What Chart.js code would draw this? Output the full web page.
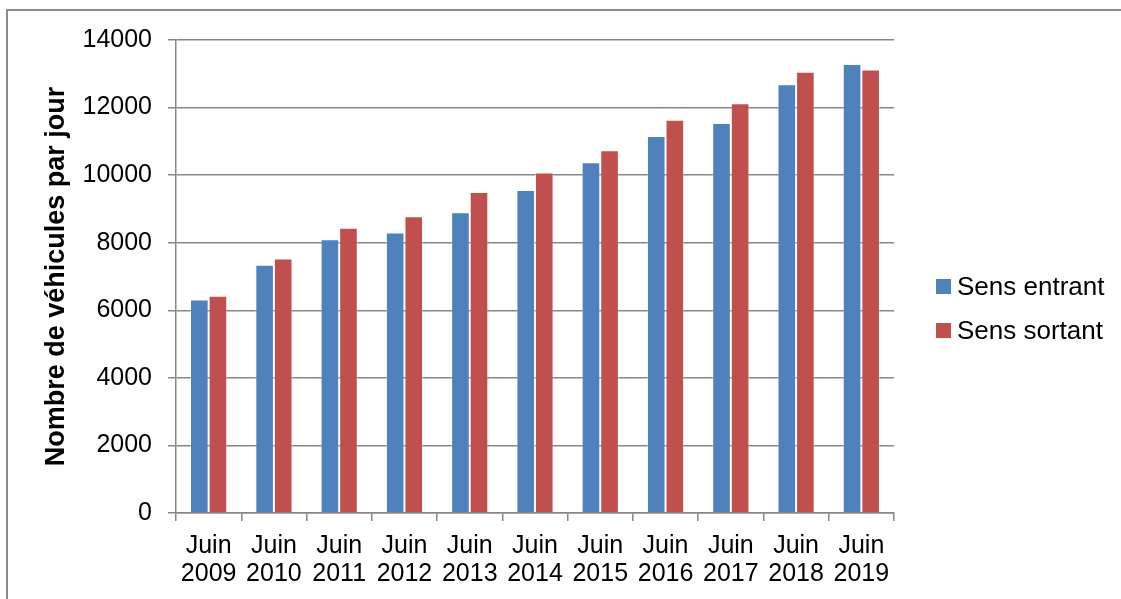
<!DOCTYPE html>
<html>
<head>
<meta charset="utf-8">
<script src="https://cdn.jsdelivr.net/npm/chart.js@4.4.0/dist/chart.umd.min.js"></script>
<style>
  body{margin:0;background:#fff;}
  #wrap{position:relative;width:1121px;height:599px;overflow:hidden;font-family:"Liberation Sans",Arial,sans-serif;}
  #frame{position:absolute;left:6px;top:9px;width:1130px;height:620px;border:2px solid #8c8c8c;box-sizing:border-box;}
  canvas{position:absolute;left:0;top:0;}
  #legend{position:absolute;left:936px;top:270px;font-size:26px;color:#000;}
  #legend div{height:44px;line-height:32px;white-space:nowrap;}
  #legend span.sw{display:inline-block;width:15px;height:15px;margin-right:6px;vertical-align:1px;}
</style>
</head>
<body>
<div id="wrap">
  <div id="frame"></div>
  <canvas id="c" width="1121" height="599"></canvas>
  <div id="legend"></div>
</div>
<script>
// Trafic journalier moyen, juin 2009 -> juin 2019
const years = ["2009","2010","2011","2012","2013","2014","2015","2016","2017","2018","2019"];
const entrant = [6320, 7350, 8100, 8300, 8900, 9560, 10380, 11160, 11540, 12690, 13290];
const sortant = [6430, 7530, 8440, 8780, 9500, 10080, 10740, 11640, 12130, 13060, 13130];
const seriesNames = ["Sens entrant", "Sens sortant"];
const colors = ["#4F81BD", "#C0504D"];

const FONT = "'Liberation Sans', Arial, sans-serif";
const GRID = "#878787";

const labels = years.map(y => ["Juin", y]);

const ctx = document.getElementById('c').getContext('2d');
new Chart(ctx, {
  type: 'bar',
  data: {
    labels,
    datasets: [
      { label: seriesNames[0], data: entrant, backgroundColor: colors[0], borderColor: 'rgba(255,255,255,0.35)', borderWidth: 1 },
      { label: seriesNames[1], data: sortant, backgroundColor: colors[1], borderColor: 'rgba(255,255,255,0.35)', borderWidth: 1 }
    ]
  },
  options: {
    responsive: false,
    animation: false,
    layout: { padding: { top: 40, right: 227, left: 0, bottom: 0 } },
    datasets: { bar: { categoryPercentage: 0.57, barPercentage: 1.0 } },
    plugins: { legend: { display: false }, tooltip: { enabled: false } },
    scales: {
      x: {
        offset: true,
        grid: { offset: true, drawOnChartArea: false, drawTicks: true, tickLength: 8, color: GRID, lineWidth: 1.5 },
        border: { color: GRID, width: 1.5 },
        ticks: { color: '#000', font: { family: FONT, size: 25, lineHeight: 1.12 }, padding: 11, maxRotation: 0, autoSkip: false },
        afterFit: s => { s.height = 86; }
      },
      y: {
        min: 0, max: 14000,
        grid: { color: GRID, lineWidth: 1.5, tickLength: 8 },
        border: { color: GRID, width: 1.5 },
        ticks: { stepSize: 2000, color: '#000', font: { family: FONT, size: 25 }, padding: 16,
                 callback: v => String(v) },
        title: { display: true, text: "Nombre de véhicules par jour", color: '#000',
                 font: { family: FONT, size: 27, weight: 'bold' }, padding: { top: 40, bottom: 0 } },
        afterFit: s => { s.width = 176; }
      }
    }
  }
});

document.getElementById('legend').innerHTML = seriesNames.map((n, i) =>
  `<div><span class="sw" style="background:${colors[i]}"></span>${n}</div>`).join("");
</script>
</body>
</html>
